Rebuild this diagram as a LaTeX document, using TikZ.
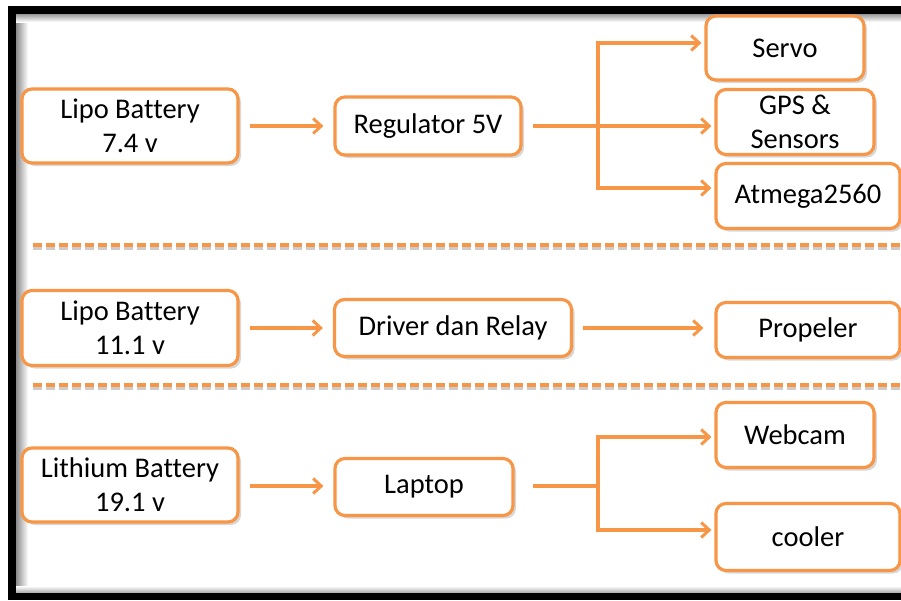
\documentclass[tikz,border=0pt]{standalone}
\usepackage{fontspec}
\setmainfont[Ligatures=NoCommon]{Carlito}
\usetikzlibrary{arrows.meta,shadows}
\definecolor{org}{RGB}{247,150,70}
\tikzset{
  box/.style={draw=org, line width=3.2pt, rounded corners=10pt, fill=white,
    align=center, inner sep=0pt, font=\fontsize{28.5}{34}\selectfont,
    drop shadow={opacity=0.3, shadow xshift=3pt, shadow yshift=-3pt}},
  conn/.style={draw=org, line width=3.2pt},
  arr/.style={conn, -{Straight Barb[length=8pt,width=15pt,line width=3pt]}},
  sep/.style={draw=org, line width=3.4pt, dash pattern=on 9pt off 4pt}
}
\begin{document}
\begin{tikzpicture}[x=1pt,y=-1pt]
\useasboundingbox (0,0) rectangle (901,600);
\fill[white] (0,0) rectangle (901,600);
% frame inner shadows
\shade[left color=black!45, right color=white] (16,14) rectangle (28,593);
\shade[top color=black!40, bottom color=white] (16,14) rectangle (901,22);
\shade[bottom color=black!35, top color=white] (16,586) rectangle (901,593);
% frame
\fill[black] (8,6) rectangle (16,600);
\fill[black] (8,6) rectangle (901,14);
\fill[black] (8,593) rectangle (901,600);
% separators
\draw[sep, draw=black!20] (33,248) -- (901,248);
\draw[sep] (33,245) -- (901,245);
\draw[sep, draw=black!20] (33,388) -- (901,388);
\draw[sep] (33,385) -- (901,385);
% row 1
\node[box, minimum width=216pt, minimum height=74pt] (lipo1) at (130,126) {Lipo Battery\\7.4 v};
\node[box, minimum width=186pt, minimum height=58pt] (reg) at (428,126) {Regulator 5V};
\node[box, minimum width=158pt, minimum height=64pt] (servo) at (785,48) {Servo};
\node[box, minimum width=158pt, minimum height=65pt] (gps) at (795,122) {GPS \&\\Sensors};
\node[box, minimum width=184pt, minimum height=65pt] (atm) at (808,196) {Atmega2560};
% row 2
\node[box, minimum width=216pt, minimum height=75pt] (lipo2) at (130,328) {Lipo Battery\\11.1 v};
\node[box, minimum width=237pt, minimum height=57pt] (drv) at (453,328) {Driver dan Relay};
\node[box, minimum width=184pt, minimum height=55pt] (prop) at (808,330) {Propeler};
% row 3
\node[box, minimum width=216pt, minimum height=74pt] (lith) at (130,485) {Lithium Battery\\19.1 v};
\node[box, minimum width=178pt, minimum height=57pt] (lap) at (424,487) {Laptop};
\node[box, minimum width=158pt, minimum height=65pt] (cam) at (795,435) {Webcam};
\node[box, minimum width=184pt, minimum height=67pt] (cool) at (808,537) {cooler};
% junctions
\coordinate (j1) at (598,126);
\coordinate (j3) at (598,486);
% connectors row 1
\draw[arr] ([xshift=10pt]lipo1.east) -- ([xshift=-10pt]reg.west);
\draw[conn] ([xshift=10pt]reg.east) -- (j1);
\draw[arr] (j1) |- ([xshift=-3pt]servo.west |- 0,43);
\draw[arr] (j1) -- ([xshift=-3pt]gps.west |- j1);
\draw[arr] (j1) |- ([xshift=-3pt]atm.west |- 0,188);
% row 2
\draw[arr] ([xshift=10pt]lipo2.east) -- ([xshift=-10pt]drv.west);
\draw[arr] ([xshift=10pt]drv.east) -- ([xshift=-11pt]prop.west |- drv.east);
% row 3
\draw[arr] (lith.east |- 0,486) ++(10,0) -- ([xshift=-10pt]lap.west |- 0,486);
\draw[conn] ([xshift=18pt]lap.east |- j3) -- (j3);
\draw[arr] (j3) |- ([xshift=-3pt]cam.west |- 0,437);
\draw[arr] (j3) |- ([xshift=-3pt]cool.west |- 0,530);
\end{tikzpicture}
\end{document}
